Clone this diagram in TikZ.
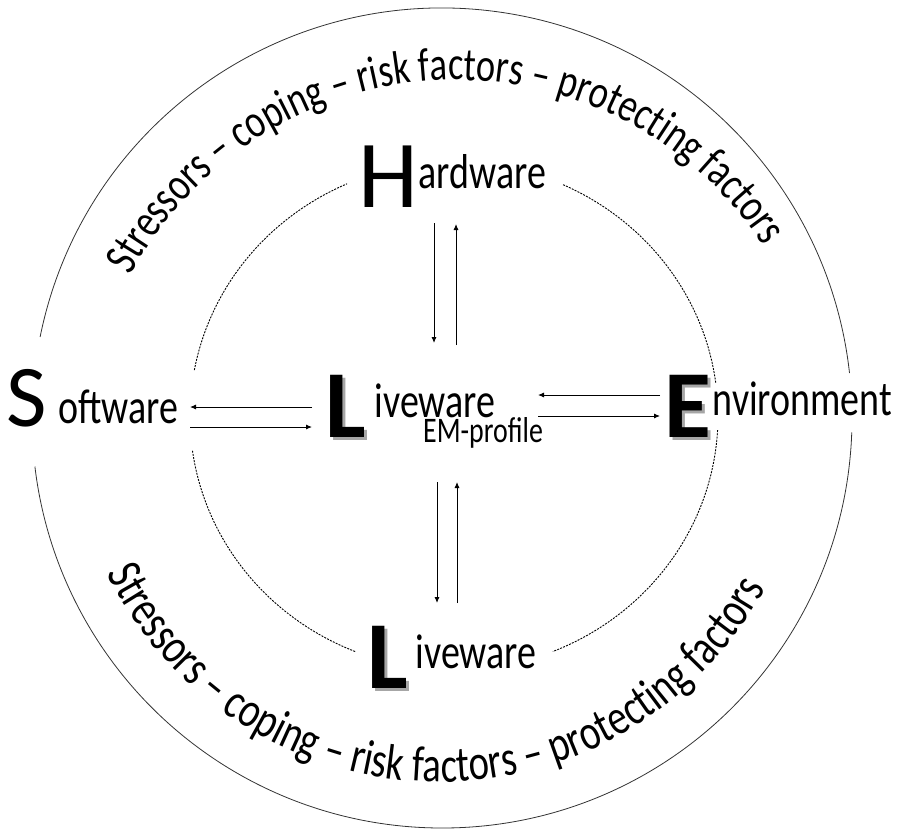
\documentclass[tikz,border=0pt]{standalone}
\usepackage{fontspec}
\setmainfont{Carlito}
\newfontfamily\tallfont[FakeStretch=0.775]{Carlito}
\usetikzlibrary{arrows.meta,decorations.text}

\tikzset{
  bigltr/.style={inner sep=0pt, anchor=base west, font=\fontsize{96}{96}\selectfont},
  bigbold/.style={bigltr, font=\fontsize{96}{96}\selectfont\bfseries},
  ltrshadow/.style={text=black!35},
  word/.style={inner sep=0pt, anchor=base west, font=\fontsize{49}{50}\tallfont},
  subword/.style={inner sep=0pt, anchor=base west, font=\fontsize{36}{38}\tallfont},
  arr/.style={-{Latex[length=6pt,width=5pt]}, line width=0.9pt},
  ring/.style={line width=0.8pt, black!80},
  innerring/.style={line width=0.9pt, dash pattern=on 2pt off 1.2pt, black},
  curved/.style={decorate, decoration={text along path, text align=center,
    text={|\fontsize{#1}{#1}\tallfont|Stressors – coping – risk factors – protecting factors}}}
}

\begin{document}
\begin{tikzpicture}[x=1pt,y=-1pt]
\useasboundingbox (0,0) rectangle (901,832);

% outer ring, open at S and E
\draw[ring] (442,418) ++(2:410) arc[start angle=2, end angle=173.2, radius=410];
\draw[ring] (442,418) ++(191.4:410) arc[start angle=191.4, end angle=353.7, radius=410];

% inner dashed ring
\draw[innerring] (454,416) ++(-65.6:264 and 254) arc[start angle=-65.6, end angle=-7.5, x radius=264, y radius=254];
\draw[innerring] (454,416) ++(3.2:264 and 254) arc[start angle=3.2, end angle=68, x radius=264, y radius=254];
\draw[innerring] (454,416) ++(112:264 and 254) arc[start angle=112, end angle=172.3, x radius=264, y radius=254];
\draw[innerring] (454,416) ++(190.4:264 and 254) arc[start angle=190.4, end angle=246.1, x radius=264, y radius=254];

% curved texts
\path[curved=47] (456,448) ++(-175:368) arc[start angle=-175, end angle=-10.3, radius=368];
\path[curved=50] (440,412) ++(175:370) arc[start angle=175, end angle=7.6, radius=370];

% Hardware
\node[bigltr] (Hbig) at (358,207) {H};
\node[word] (Hword) at (418.5,188) {ardware};

% Software
\node[bigltr, font=\fontsize{88}{88}\selectfont] (Sbig) at (6,426) {S};
\node[word] (Sword) at (58,423) {oftware};

% Liveware (centre)
\node[bigbold, ltrshadow] (Lsh) at (328,440) {L};
\node[bigbold] (Lbig) at (325,437) {L};
\node[word] (Lword) at (374.5,417) {iveware};
\node[subword] (EMword) at (423,442) {EM-profile};

% Environment
\node[bigbold, ltrshadow] (Esh) at (667,440) {E};
\node[bigbold] (Ebig) at (664,437) {E};
\node[word] (Eword) at (712.5,415) {nvironment};

% Liveware (bottom)
\node[bigbold, ltrshadow] (L2sh) at (370,691) {L};
\node[bigbold] (L2big) at (367,688) {L};
\node[word] (L2word) at (415.5,668) {iveware};

% arrow ends
\coordinate (hd1) at (434,223); \coordinate (hd2) at (434,343);
\coordinate (hu1) at (456,345); \coordinate (hu2) at (456,224);
\coordinate (ld1) at (437,482); \coordinate (ld2) at (437,603);
\coordinate (lu1) at (457,603); \coordinate (lu2) at (457,482);
\coordinate (sl1) at (312,407); \coordinate (sl2) at (190,407);
\coordinate (sr1) at (190,427); \coordinate (sr2) at (312,427);
\coordinate (el1) at (660,395); \coordinate (el2) at (538,395);
\coordinate (er1) at (538,416); \coordinate (er2) at (660,416);

\foreach \a/\b in {hd1/hd2, hu1/hu2, ld1/ld2, lu1/lu2, sl1/sl2, sr1/sr2, el1/el2, er1/er2}
  \draw[arr] (\a) -- (\b);
\end{tikzpicture}
\end{document}
